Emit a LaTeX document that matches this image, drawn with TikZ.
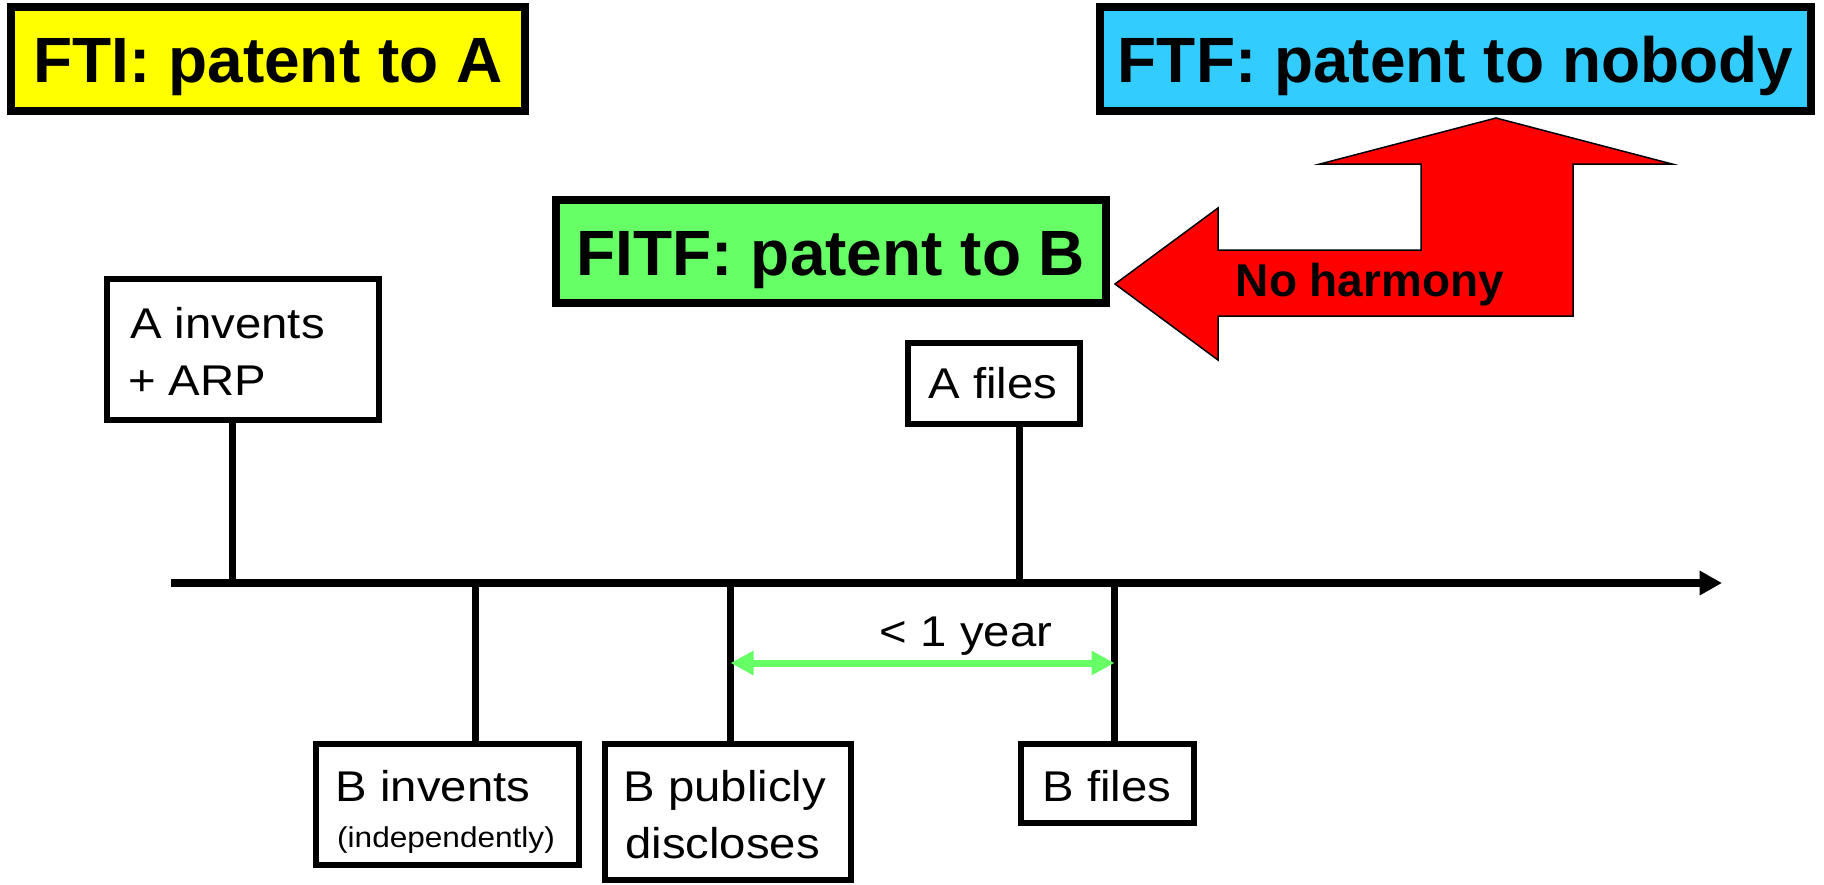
\documentclass[tikz,border=0pt]{standalone}
\usepackage{fontspec}
\setmainfont{Liberation Sans}
\newfontfamily\regfont[FakeStretch=1.1]{Liberation Sans}
\usetikzlibrary{arrows.meta}
\definecolor{fyellow}{HTML}{FFFF00}
\definecolor{fcyan}{HTML}{33CCFF}
\definecolor{fgreen}{HTML}{66FF66}
\definecolor{fred}{HTML}{FF0000}
\tikzset{
  titlebox/.style={draw=black, line width=8pt, inner sep=0pt, anchor=north west,
    font=\fontsize{64}{70}\selectfont\bfseries, text height=47.4pt, text depth=0pt},
  evbox/.style={draw=black, line width=6pt, inner sep=0pt, anchor=north west},
  evtext/.style={inner sep=0pt, font=\regfont\fontsize{43}{47}\selectfont},
  smalltext/.style={inner sep=0pt, font=\regfont\fontsize{28.7}{30}\selectfont},
  stemline/.style={line width=7pt},
  timeline/.style={line width=7.3pt, -{Triangle[length=22.4pt,width=23.3pt]}},
  spanarrow/.style={draw=fgreen, line width=7pt,
    {Triangle[length=23pt,width=23pt]}-{Triangle[length=23pt,width=23pt]}},
  bigarrow/.style={draw=black, fill=fred, line width=1.5pt, line join=miter},
  harmonytext/.style={inner sep=0pt, font=\fontsize{46}{52}\selectfont\bfseries}
}
\begin{document}
\begin{tikzpicture}[x=1pt,y=-1pt]
\useasboundingbox (0,0) rectangle (1824,884);

% title boxes
\node[titlebox, fill=fyellow, minimum width=514pt, minimum height=104pt] (fti) at (7,3) {FTI: patent to A};
\node[titlebox, fill=fcyan, minimum width=711pt, minimum height=104pt] (ftf) at (1096,3) {FTF: patent to nobody};
\node[titlebox, fill=fgreen, minimum width=550pt, minimum height=103pt] (fitf) at (552,196) {FITF: patent to B};

% red bent arrow
\draw[bigarrow] (1115,284) -- (1218,208) -- (1218,250) -- (1421,250) -- (1421,164)
  -- (1320,164) -- (1496,118) -- (1672,164) -- (1573,164) -- (1573,316)
  -- (1218,316) -- (1218,360) -- cycle;
\node[harmonytext, anchor=base] (noharm) at (1370,296) {No harmony};

% timeline
\coordinate (tstart) at (171,583);
\coordinate (tend) at (1722,583);
\draw[timeline] (tstart) -- (tend);

% event boxes
\node[evbox, minimum width=271.7pt, minimum height=140.7pt] (ainv) at (104,276) {};
\node[evtext, anchor=base west] (ainvA) at (130,338) {A invents};
\node[evtext, anchor=base west] (ainvB) at (128,395) {+ ARP};

\node[evbox, minimum width=172.3pt, minimum height=80.7pt] (afile) at (905,340) {};
\node[evtext, anchor=base] (afileT) at (993,398) {A files};

\node[evbox, minimum width=263pt, minimum height=120.7pt] (binv) at (312.7,741) {};
\node[evtext, anchor=base west] (binvA) at (335.5,801) {B invents};
\node[smalltext, anchor=base west] (binvB) at (337,847) {(independently)};

\node[evbox, minimum width=246pt, minimum height=136pt] (bpub) at (602,741) {};
\node[evtext, anchor=base west] (bpubA) at (623.5,801) {B publicly};
\node[evtext, anchor=base west] (bpubB) at (625,858) {discloses};

\node[evbox, minimum width=173pt, minimum height=79pt] (bfile) at (1017.5,741) {};
\node[evtext, anchor=base] (bfileT) at (1107,801) {B files};

% stems
\coordinate (tAinv) at (232.7,583);
\coordinate (tAfile) at (1019,583);
\coordinate (tBinv) at (475.5,583);
\coordinate (tBpub) at (730.5,583);
\coordinate (tBfile) at (1114.5,583);
\draw[stemline] (tAinv) -- (tAinv |- ainv.south);
\draw[stemline] (tAfile) -- (tAfile |- afile.south);
\draw[stemline] (tBinv) -- (tBinv |- binv.north);
\draw[stemline] (tBpub) -- (tBpub |- bpub.north);
\draw[stemline] (tBfile) -- (tBfile |- bfile.north);

% span arrow
\coordinate (gL) at (730.5,663);
\coordinate (gR) at (1114.5,663);
\draw[spanarrow] (gL) -- (gR);
\node[evtext, anchor=base] (span) at (966,646) {< 1 year};
\end{tikzpicture}
\end{document}
